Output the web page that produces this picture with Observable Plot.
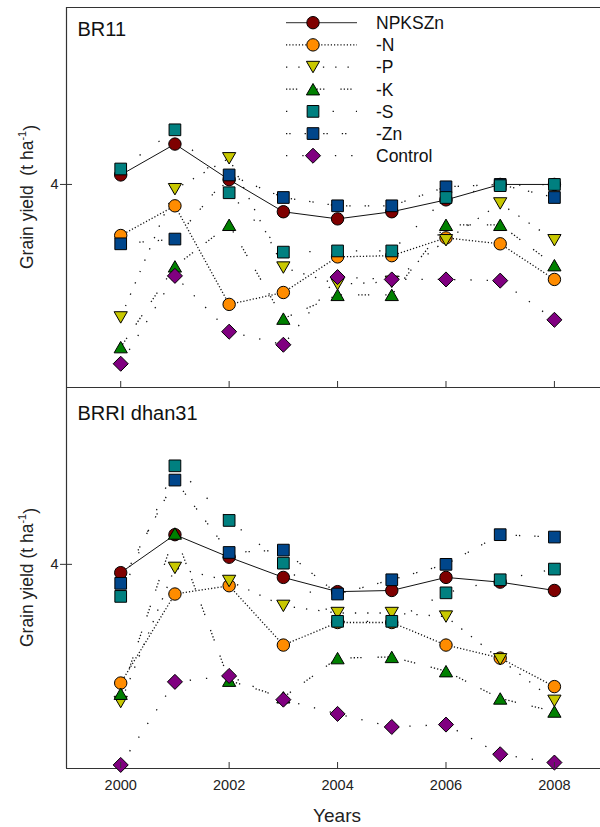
<!DOCTYPE html>
<html><head><meta charset="utf-8">
<script src="https://cdn.jsdelivr.net/npm/d3@7"></script>
<script src="https://cdn.jsdelivr.net/npm/@observablehq/plot@0.6"></script>
<style>
body{margin:0;background:#fff;}
#wrap{position:relative;width:600px;height:827px;font-family:"Liberation Sans",Arial,sans-serif;}
#wrap svg{position:absolute;left:0;overflow:visible;}
</style></head><body><div id="wrap"></div>
<script>
// ---------- data ----------
const years = [2000, 2001, 2002, 2003, 2004, 2005, 2006, 2007, 2008];
const tickYears = [2000, 2002, 2004, 2006, 2008];
const yTicks = [4];
const seriesNames = ["NPKSZn", "-N", "-P", "-K", "-S", "-Zn", "Control"];
const panelNames = ["BR11", "BRRI dhan31"];

// BR11 (t/ha)
const br11NPKSZn  = [4.08, 4.34, 4.04, 3.77, 3.71, 3.77, 3.87, 4.00, 4.00];
const br11N       = [3.57, 3.82, 2.99, 3.09, 3.39, 3.40, 3.55, 3.50, 3.20];
const br11P       = [2.88, 3.96, 4.22, 3.30, 3.16, 3.18, 3.53, 3.84, 3.53];
const br11K       = [2.63, 3.31, 3.66, 2.87, 3.07, 3.07, 3.66, 3.66, 3.32];
const br11S       = [4.13, 4.46, 3.93, 3.43, 3.44, 3.44, 3.89, 3.99, 4.00];
const br11Zn      = [3.50, 3.54, 4.08, 3.89, 3.82, 3.82, 3.98, 4.00, 3.89];
const br11Control = [2.49, 3.23, 2.76, 2.65, 3.22, 3.20, 3.20, 3.19, 2.86];

// BRRI dhan31 (t/ha)
const d31NPKSZn  = [3.93, 4.25, 4.06, 3.89, 3.77, 3.78, 3.89, 3.85, 3.78];
const d31N       = [3.00, 3.75, 3.82, 3.32, 3.51, 3.51, 3.32, 3.21, 2.97];
const d31P       = [2.84, 3.97, 3.86, 3.65, 3.59, 3.59, 3.56, 3.20, 2.85];
const d31K       = [2.91, 4.26, 3.02, 2.88, 3.21, 3.22, 3.10, 2.87, 2.76];
const d31S       = [3.73, 4.83, 4.37, 4.01, 3.52, 3.52, 3.76, 3.87, 3.96];
const d31Zn      = [3.84, 4.71, 4.10, 4.12, 3.75, 3.87, 4.00, 4.25, 4.23];
const d31Control = [2.31, 3.01, 3.06, 2.86, 2.74, 2.63, 2.65, 2.40, 2.33];

const br11Values = [br11NPKSZn, br11N, br11P, br11K, br11S, br11Zn, br11Control];
const d31Values  = [d31NPKSZn, d31N, d31P, d31K, d31S, d31Zn, d31Control];

// ---------- styles ----------
const S3 = Math.sqrt(3);
const triUp = {draw(ctx, size){const s=Math.sqrt(4*size/S3), h=s*S3/2; ctx.moveTo(0,-h/2); ctx.lineTo(s/2,h/2); ctx.lineTo(-s/2,h/2); ctx.closePath();}};
const triDown = {draw(ctx, size){const s=Math.sqrt(4*size/S3), h=s*S3/2; ctx.moveTo(0,h/2); ctx.lineTo(s/2,-h/2); ctx.lineTo(-s/2,-h/2); ctx.closePath();}};
const diamond = {draw(ctx, size){const h=Math.sqrt(size/2); ctx.moveTo(0,-h); ctx.lineTo(h,0); ctx.lineTo(0,h); ctx.lineTo(-h,0); ctx.closePath();}};
const square = d3.symbolSquare;
const circle = d3.symbolCircle;

const style = {
  "NPKSZn":  {fill:"#7f0000", symbol:circle,  r:6.2, dash:null},
  "-N":      {fill:"#ff8c00", symbol:circle,  r:6.2, dash:"1.2,2"},
  "-P":      {fill:"#c8c800", symbol:triDown, r:4.9, dash:"1.3,11"},
  "-K":      {fill:"#008000", symbol:triUp,   r:4.9, dash:"1.3,2,1.3,2,1.3,2,1.3,16"},
  "-S":      {fill:"#008080", symbol:square,  r:6.6, dash:"1.3,22"},
  "-Zn":     {fill:"#00468b", symbol:square,  r:6.6, dash:"1.3,2,1.3,14"},
  "Control": {fill:"#800080", symbol:diamond, r:6.0, dash:"1.3,15"}
};
const dotOrder = ["NPKSZn", "-N", "-P", "-K", "-Zn", "-S", "Control"];

const xDomain = [1999, 2008.85];
const axisColor = "#333";
const font = '"Liberation Sans", Arial, sans-serif';
const wrap = document.getElementById("wrap");

function rowsFor(values) {
  const rows = [];
  seriesNames.forEach((s, i) => years.forEach((yr, j) => rows.push({series: s, year: yr, value: values[i][j]})));
  return rows;
}

function makePanel({name, values, domain, top, height, marginTop, marginBottom, titleDy, labelSpace, showX}) {
  const rows = rowsFor(values);
  const marks = [
    Plot.ruleX([xDomain[0]], {stroke: axisColor, strokeWidth: 1.2}),
    Plot.ruleY([domain[0]], {stroke: axisColor, strokeWidth: 1.2}),
    Plot.ruleY([domain[1]], {stroke: axisColor, strokeWidth: 1.2})
  ];
  for (const s of seriesNames) {
    const st = style[s];
    marks.push(Plot.line(rows.filter(d => d.series === s), {
      x: "year", y: "value", stroke: "#111", strokeWidth: st.dash ? 1.3 : 1,
      strokeLinecap: "butt", strokeDasharray: st.dash || undefined
    }));
  }
  for (const s of dotOrder) {
    const st = style[s];
    marks.push(Plot.dot(rows.filter(d => d.series === s), {
      x: "year", y: "value", symbol: st.symbol, r: st.r, fill: st.fill,
      stroke: "#000", strokeWidth: 1
    }));
  }
  marks.push(Plot.axisX({anchor: "bottom", ticks: tickYears, tickSize: 6, dy: -6, tickFormat: () => "", label: null, stroke: axisColor}));
  if (showX) marks.push(Plot.axisX({anchor: "bottom", ticks: tickYears, tickSize: 0, tickPadding: 11, tickFormat: d => String(d), label: null, fontSize: 14.5, fill: "#222"}));
  marks.push(Plot.axisY({anchor: "left", ticks: yTicks, tickSize: 6, tickPadding: 2, tickFormat: d => String(d), label: null, fontSize: 14.5, fill: "#222", stroke: axisColor}));
  marks.push(Plot.axisY({anchor: "left", ticks: yTicks, tickSize: 6, dx: 6, tickFormat: () => "", label: null, stroke: axisColor}));
  marks.push(Plot.text([name], {text: d => d, frameAnchor: "top-left", textAnchor: "start", lineAnchor: "top", dx: 11, dy: titleDy, fontSize: 20, fill: "#111"}));

  const plot = Plot.plot({
    width: 600, height, marginTop, marginBottom, marginLeft: 66, marginRight: 0,
    x: {domain: xDomain},
    y: {domain},
    style: {fontFamily: font, fontSize: "14.5px", background: "transparent", overflow: "visible", color: "#222"},
    marks
  });
  plot.style.top = top + "px";
  wrap.appendChild(plot);

  const svg = d3.select(plot);
  const yMid = (marginTop + (height - marginBottom)) / 2;
  const t = svg.append("text")
    .attr("transform", `translate(32.5,${yMid}) rotate(-90)`)
    .attr("text-anchor", "middle").attr("font-size", 17.5).attr("fill", "#222")
    .attr("font-family", font).style("white-space", "pre");
  t.append("tspan").text("Grain yield" + labelSpace + "(t ha");
  t.append("tspan").attr("font-size", 11).attr("dy", "-0.55em").text("-1");
  t.append("tspan").attr("dy", "0.55em").text(")");

  if (showX) {
    const xs = plot.scale("x");
    const cx = (xs.apply(tickYears[0]) + xs.apply(tickYears[tickYears.length - 1])) / 2;
    svg.append("text").attr("x", cx).attr("y", 822 - top)
      .attr("text-anchor", "middle").attr("font-size", 19).attr("fill", "#222")
      .attr("font-family", font).text("Years");
  }
  return plot;
}

makePanel({name: panelNames[0], values: br11Values, domain: [2.29, 5.49], top: 0, height: 392, marginTop: 7, marginBottom: 5, titleDy: 14.7, labelSpace: "  ", showX: false});
makePanel({name: panelNames[1], values: d31Values, domain: [2.28, 5.49], top: 382, height: 445, marginTop: 5, marginBottom: 59, titleDy: 18, labelSpace: " ", showX: true});

// ---------- legend (inside top panel) ----------
const leg = d3.select(wrap).append("svg")
  .attr("width", 600).attr("height", 200).style("top", "0px").style("pointer-events", "none");
const rowY0 = 22.7, rowStep = 22.17;
seriesNames.forEach((s, i) => {
  const st = style[s];
  const y = rowY0 + i * rowStep;
  leg.append("line").attr("x1", 286).attr("x2", 357).attr("y1", y).attr("y2", y)
    .attr("stroke", st.dash ? "#111" : "#555").attr("stroke-width", st.dash ? 1.3 : 1.2)
    .attr("stroke-linecap", "butt")
    .attr("stroke-dasharray", st.dash);
  leg.append("path").attr("transform", `translate(313,${y})`)
    .attr("d", d3.symbol(st.symbol, Math.PI * st.r * st.r)())
    .attr("fill", st.fill).attr("stroke", "#000").attr("stroke-width", 1);
  leg.append("text").attr("x", 376).attr("y", y).attr("dy", "0.36em")
    .attr("font-size", 17.5).attr("fill", "#111").attr("font-family", font).text(s);
});
</script>
</body></html>
